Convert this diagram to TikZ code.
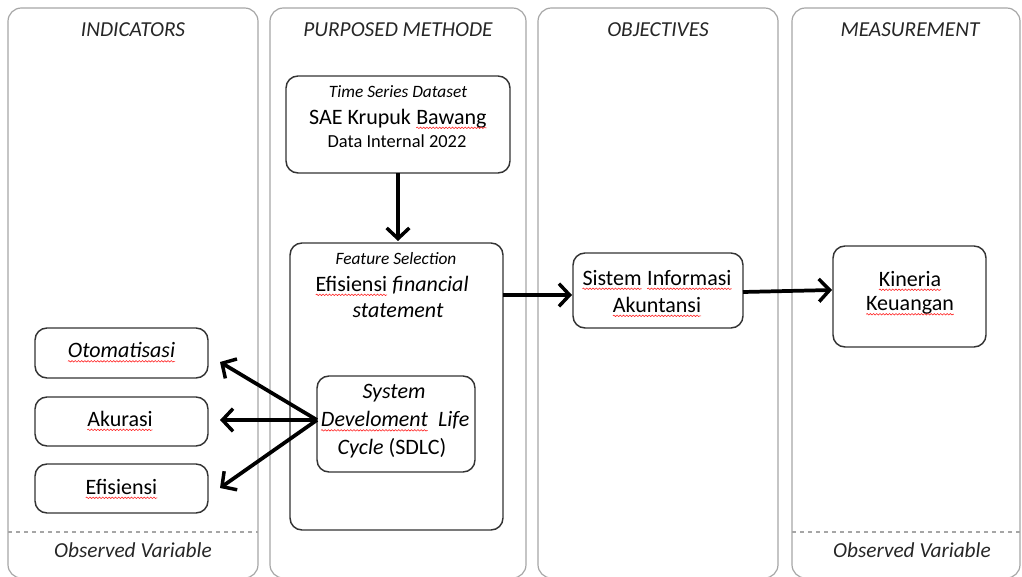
\documentclass[tikz,border=0pt]{standalone}
\usepackage{fontspec}
\setmainfont{Carlito}
\usetikzlibrary{arrows.meta,decorations.pathmorphing}
\tikzset{
  col/.style={draw=gray!70, line width=0.9pt, rounded corners=10pt},
  box/.style={draw=black!80, line width=1.1pt, rounded corners=9pt},
  hdr/.style={font=\fontsize{16}{18}\selectfont\itshape, text=black!85},
  txt/.style={font=\fontsize{16.5}{19}\selectfont, text=black},
  small/.style={font=\fontsize{13}{15}\selectfont\itshape, text=black},
  arr/.style={line width=2.8pt, -{Straight Barb[length=8pt,width=17pt,line width=2.6pt]}},
  squig/.style={draw=red!85, line width=0.45pt, decorate, decoration={snake, amplitude=0.55pt, segment length=2.4pt}},
}
\newcommand\sqw[1]{\begin{tikzpicture}[baseline=(w.base),x=1pt,y=1pt]\node[inner sep=0pt,outer sep=0pt] (w) {#1};\draw[squig] ([yshift=-2.6pt]w.base west) -- ([yshift=-2.6pt]w.base east);\end{tikzpicture}}
\begin{document}
\begin{tikzpicture}[x=0.75pt,y=-0.75pt]
\useasboundingbox (0,0) rectangle (1022,577);
% columns
\draw[col] (8,8) rectangle (258,578);
\draw[col] (270,8) rectangle (526,578);
\draw[col] (538,8) rectangle (778,578);
\draw[col] (792,8) rectangle (1020,578);
\node[hdr] (h1) at (133,30) {INDICATORS};
\node[hdr] (h2) at (398,30) {PURPOSED METHODE};
\node[hdr] (h3) at (658,30) {OBJECTIVES};
\node[hdr] (h4) at (910,30) {MEASUREMENT};
\draw[gray!70, dashed, line width=0.9pt] (8,532) -- (258,532);
\draw[gray!70, dashed, line width=0.9pt] (792,532) -- (1020,532);
\node[hdr] (ov1) at (133,550) {Observed Variable};
\node[hdr] (ov2) at (912,550) {Observed Variable};
% time series box
\draw[box] (286,76) rectangle (510,173);
\node[small] (ts1) at (398,92) {Time Series Dataset};
\node[txt] (ts2) at (398,119) {SAE Krupuk \sqw{Bawang}};
\node[txt, font=\fontsize{13.8}{16}\selectfont] (ts3) at (397,141) {Data Internal 2022};
\coordinate (tsb) at (398,173);
% feature selection box
\draw[box] (290,243) rectangle (503,530);
\coordinate (fst) at (398,241);
\coordinate (fsr) at (503,295);
\node[small] (fs1) at (396,259) {Feature Selection};
\node[txt] (fs2) at (392,286) {\sqw{Efisiensi} \textit{financial}};
\node[txt, font=\fontsize{16.5}{19}\selectfont\itshape] (fs3) at (398,311) {statement};
% SDLC box
\draw[box] (317,376) rectangle (475,472);
\coordinate (sdl) at (317,420);
\node[txt, font=\fontsize{16.5}{19}\selectfont\itshape] (sd1) at (394,393) {System};
\node[txt] (sd2) at (395,421.5) {\textit{\sqw{Develoment}\ \ Life}};
\node[txt] (sd3) at (392,448) {\textit{Cycle} (SDLC)};
% indicators
\draw[box] (35,328) rectangle (208,378);
\draw[box] (35,397) rectangle (208,446);
\draw[box] (35,464) rectangle (208,513);
\node[txt, font=\fontsize{16.5}{19}\selectfont\itshape] (t1) at (121.5,352.5) {\sqw{Otomatisasi}};
\node[txt] (t2) at (120,421) {\sqw{Akurasi}};
\node[txt] (t3) at (121.5,489) {\sqw{Efisiensi}};
\coordinate (e1) at (220,362);
\coordinate (e2) at (220,420);
\coordinate (e3) at (220,488);
\draw[arr] (sdl) -- (e1);
\draw[arr] (sdl) -- (e2);
\draw[arr] (sdl) -- (e3);
\draw[arr] (tsb) -- (fst);
% objectives
\draw[box] (573,253) rectangle (743,328);
\node[txt] (s1) at (657,280) {\sqw{Sistem} \sqw{Informasi}};
\node[txt] (s2) at (657,307) {\sqw{Akuntansi}};
\coordinate (sl) at (572,295);
\coordinate (sr) at (743,292);
\draw[arr] (fsr) -- (sl);
% measurement
\draw[box] (833,246) rectangle (986,347);
\node[txt] (k1) at (910,281) {\sqw{Kineria}};
\node[txt] (k2) at (910,306) {\sqw{Keuangan}};
\coordinate (kl) at (832,290);
\draw[arr] (sr) -- (kl);
\end{tikzpicture}
\end{document}
